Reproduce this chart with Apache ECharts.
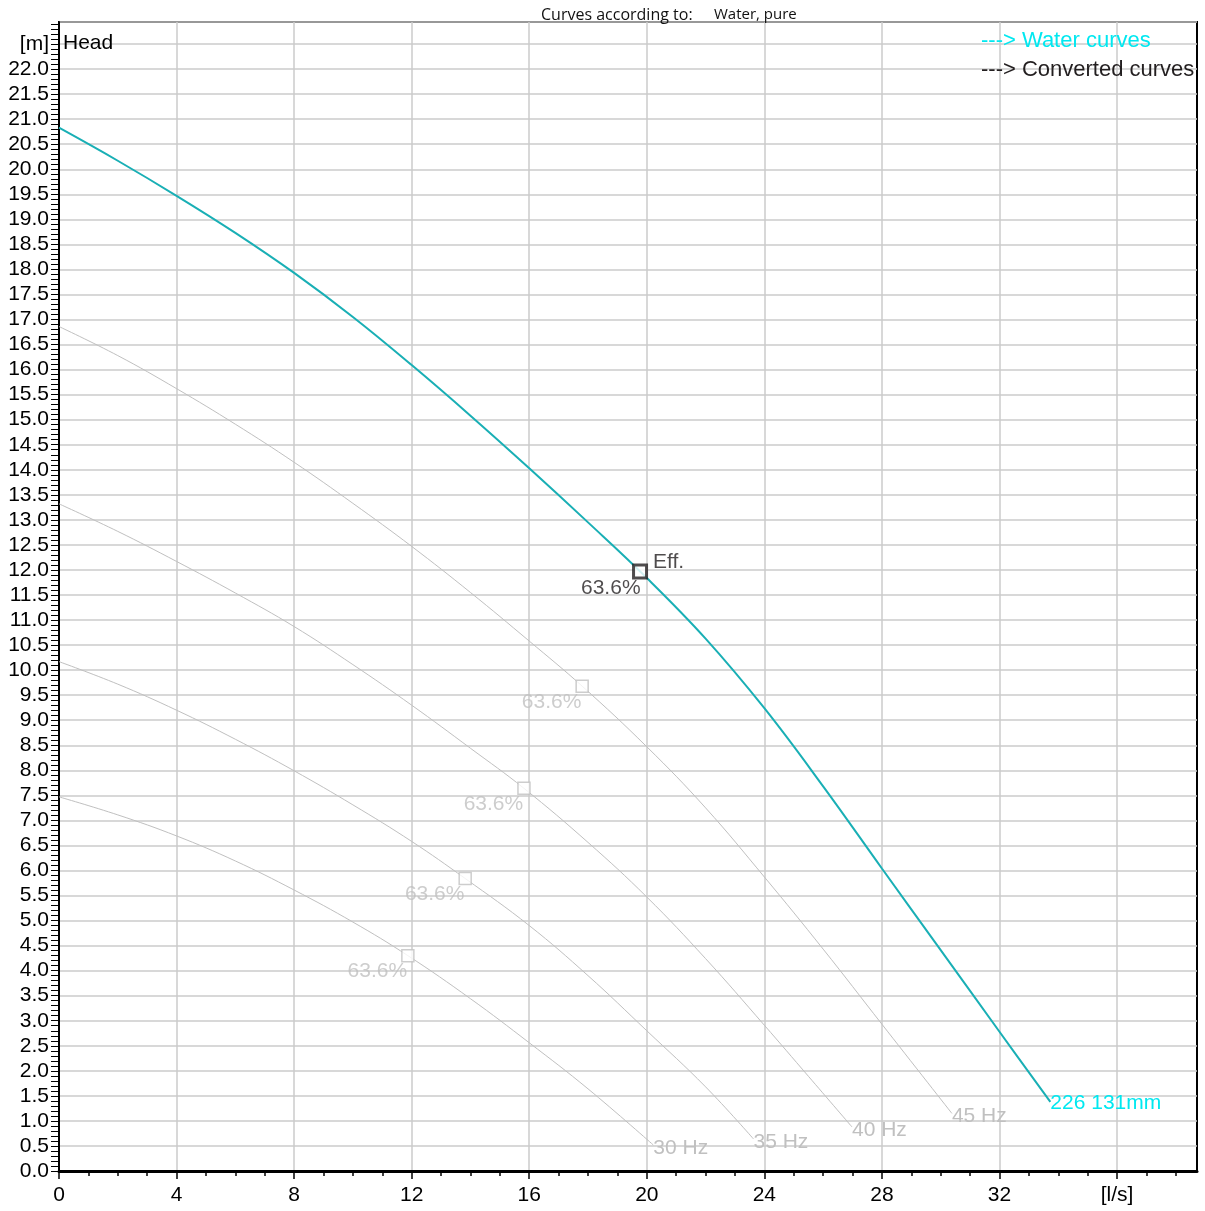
<!DOCTYPE html>
<html>
<head>
<meta charset="utf-8">
<title>Head curves</title>
<script src="https://cdn.jsdelivr.net/npm/echarts@6/dist/echarts.min.js"></script>
<style>
  html, body { margin: 0; padding: 0; background: #fff; }
  #chart { width: 1205px; height: 1211px; }
</style>
</head>
<body>
<div id="chart"></div>
<script>
// Pump head curves, flow [l/s] vs head [m]
const fullSpeedCurve = [[0, 20.83], [2, 20.17], [4, 19.47], [6, 18.73], [8, 17.93], [10, 17.05], [12, 16.09],
  [14, 15.08], [16, 14.03], [18, 12.95], [20, 11.84], [22, 10.63], [24, 9.24], [26, 7.68], [28, 6.04],
  [30, 4.41], [32, 2.78], [33.73, 1.38]];
const curve45 = [[0, 16.86], [2, 16.28], [4, 15.62], [6, 14.91], [8, 14.15], [10, 13.33], [12, 12.47],
  [14, 11.55], [16, 10.58], [17.8, 9.68], [20, 8.47], [22, 7.25], [24, 5.87], [26, 4.43], [28, 2.93],
  [30.38, 1.15]];
const curve40 = [[0, 13.32], [2, 12.77], [4, 12.17], [6, 11.54], [8, 10.87], [10, 10.11], [12, 9.3],
  [14, 8.44], [15.82, 7.64], [18, 6.56], [20, 5.47], [22, 4.24], [24, 2.91], [25.5, 1.89], [26.98, 0.88]];
const curve35 = [[0, 10.17], [2, 9.72], [4, 9.2], [6, 8.62], [8, 7.99], [10, 7.31], [12, 6.58],
  [13.82, 5.84], [16, 4.9], [18, 3.9], [20, 2.8], [22, 1.68], [23.63, 0.64]];
const curve30 = [[0, 7.47], [2, 7.11], [4, 6.69], [6, 6.19], [8, 5.61], [10, 4.97], [11.87, 4.3],
  [14, 3.44], [16, 2.56], [18, 1.64], [20.22, 0.52]];

const fullSpeedLabel = '226 131mm';
const speedNames = ['45 Hz', '40 Hz', '35 Hz', '30 Hz'];
const speedCurves = [curve45, curve40, curve35, curve30];

// best efficiency points
const bepFull = [[19.77, 11.97]];
const bepReduced = [[17.8, 9.68], [15.82, 7.64], [13.82, 5.84], [11.87, 4.3]];
const bepText = '63.6%';

// axis ticks and labels
const xMax = 38.72, yMax = 22.94;
const xLabelValues = [0, 4, 8, 12, 16, 20, 24, 28, 32, 36];
const xMinorValues = []; for (let i = 0; i <= 38; i++) xMinorValues.push(i);
const yLabelValues = []; for (let i = 0; i <= 45; i++) yLabelValues.push(i / 2);
const yTickValues = []; for (let i = 0; i <= 229; i++) yTickValues.push(i / 10);

const FONT = 'Liberation Sans, Arial, sans-serif';
const GRAY = '#c0c0c0';
const DARK = '#231f20';
const TEAL = '#19afb5';
const CYAN = '#00e8f0';

const chart = echarts.init(document.getElementById('chart'), null, { renderer: 'canvas' });

const series = [];
series.push({
  type: 'line', name: 'full', data: fullSpeedCurve, smooth: 0.4, showSymbol: false, symbol: 'none',
  lineStyle: { color: TEAL, width: 2 }, z: 5, silent: true,
  endLabel: { show: true, formatter: fullSpeedLabel, color: CYAN, fontFamily: FONT, fontSize: 21, distance: 0, offset: [0, 1] }
});
speedCurves.forEach((c, i) => {
  series.push({
    type: 'line', name: speedNames[i], data: c, smooth: 0.4, showSymbol: false, symbol: 'none',
    lineStyle: { color: GRAY, width: 1 }, z: 3, silent: true,
    endLabel: { show: true, formatter: speedNames[i], color: GRAY, fontFamily: FONT, fontSize: 21, distance: 0, offset: [0, 3] }
  });
});
series.push({
  type: 'scatter', data: bepReduced, symbol: 'rect', symbolSize: 12, z: 6, silent: true,
  itemStyle: { color: '#fff', borderColor: GRAY, borderWidth: 1.5 },
  label: { show: true, formatter: bepText, position: 'left', distance: 0, offset: [6, 16], color: GRAY, fontFamily: FONT, fontSize: 21 }
});
series.push({
  type: 'scatter', data: bepFull, symbol: 'rect', symbolSize: 13, z: 7, silent: true,
  itemStyle: { color: '#fff', borderColor: DARK, borderWidth: 3 },
  label: { show: true, formatter: 'Eff.', position: 'right', distance: 6, offset: [-1, -9], color: DARK, fontFamily: FONT, fontSize: 21 }
});
series.push({
  type: 'scatter', data: bepFull, symbol: 'rect', symbolSize: 1, z: 7, silent: true,
  itemStyle: { color: 'rgba(0,0,0,0)' },
  label: { show: true, formatter: bepText, position: 'left', distance: 0, offset: [1, 17], color: DARK, fontFamily: FONT, fontSize: 21 }
});

const titleStyle = (size, color, family) => ({ fontFamily: family || FONT, fontSize: size, fontWeight: 'normal', color: color });

const option = {
  backgroundColor: '#fff',
  animation: false,
  title: [
    { text: 'Curves according to:', left: 536, top: 2, textStyle: titleStyle(16, '#111', 'Open Sans') },
    { text: 'Water, pure', left: 709, top: 2, textStyle: titleStyle(15, '#111', 'Open Sans') },
    { text: 'Head', left: 58, top: 28, textStyle: titleStyle(21, '#000') },
    { text: '---> Water curves', left: 976, top: 25, textStyle: titleStyle(22, CYAN) },
    { text: '---> Converted curves', left: 976, top: 54, textStyle: titleStyle(22, DARK) }
  ],
  grid: { left: 59, right: 8, top: 22, bottom: 40, show: true, borderColor: '#000', borderWidth: 2, backgroundColor: '#fff' },
  xAxis: [{
    type: 'value', min: 0, max: xMax, interval: 4,
    axisLine: { show: true, onZero: false, lineStyle: { color: '#000', width: 3 } },
    axisTick: { show: true, length: 8, customValues: xLabelValues, lineStyle: { color: '#000', width: 1.5 } },
    axisLabel: {
      customValues: xLabelValues, margin: 14, color: '#000', fontFamily: FONT, fontSize: 21,
      formatter: v => (Math.abs(v - 36) < 1e-6 ? '[l/s]' : String(v))
    },
    splitLine: { show: true, lineStyle: { color: '#cbcbcb', width: 1.5 } }
  }, {
    type: 'value', min: 0, max: xMax, position: 'bottom',
    axisLine: { show: false },
    axisTick: { show: true, length: 5, customValues: xMinorValues, lineStyle: { color: '#000', width: 1.5 } },
    axisLabel: { show: false },
    splitLine: { show: false }
  }],
  yAxis: [{
    type: 'value', min: 0, max: yMax, interval: 0.5,
    axisLine: { show: true, onZero: false, lineStyle: { color: '#000', width: 2 } },
    axisTick: { show: false },
    axisLabel: {
      customValues: yLabelValues, margin: 10, color: '#000', fontFamily: FONT, fontSize: 21,
      formatter: v => (Math.abs(v - 22.5) < 1e-6 ? '[m]' : v.toFixed(1))
    },
    splitLine: { show: true, lineStyle: { color: '#cbcbcb', width: 1.5 } }
  }, {
    type: 'value', min: 0, max: yMax, position: 'left',
    axisLine: { show: false },
    axisTick: { show: true, length: 8, customValues: yTickValues, lineStyle: { color: '#000', width: 1 } },
    axisLabel: { show: false },
    splitLine: { show: false }
  }],
  series: series
};

chart.setOption(option);
</script>
</body>
</html>
